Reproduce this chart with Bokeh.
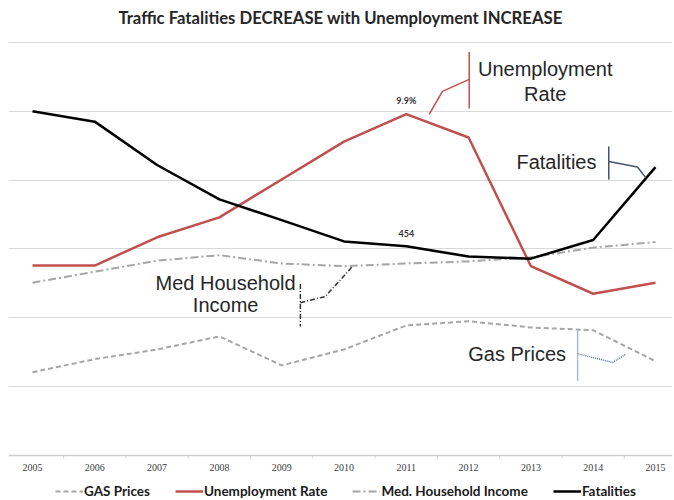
from bokeh.plotting import figure
from bokeh.models import Range1d, FixedTicker, Label, Legend, LegendItem, Span
from bokeh.core.properties import value
from bokeh.embed import file_html
from bokeh.resources import INLINE

# ---- data (values relative to the hidden y scale) ----
years = [2005, 2006, 2007, 2008, 2009, 2010, 2011, 2012, 2013, 2014, 2015]
year_labels = [str(y) for y in years]
gas_prices = [12.1, 14.0, 15.4, 17.3, 13.1, 15.4, 18.9, 19.5, 18.6, 18.2, 13.7]
unemployment_rate = [27.6, 27.6, 31.7, 34.6, 40.1, 45.6, 49.6, 46.2, 27.5, 23.5, 25.1]
med_household_income = [25.1, 26.7, 28.3, 29.1, 27.9, 27.5, 27.9, 28.2, 28.8, 30.2, 31.0]
fatalities = [50.0, 48.5, 42.2, 37.2, 34.2, 31.1, 30.4, 28.9, 28.6, 31.3, 41.9]
grid_values = [10, 20, 30, 40, 50, 60]

label_year = 2011
unemp_label = "9.9%"
fatal_label = "454"

title_text = "Traffic Fatalities DECREASE with Unemployment INCREASE"

RED = "#c0504d"
GRAY = "#a6a6a6"
AXIS = "#d0d0d0"

p = figure(frame_width=664, frame_height=467, output_backend="svg", toolbar_location=None,
           x_range=Range1d(2004.615, 2015.273), y_range=Range1d(-6.39, 61.45),
           min_border_left=8, min_border_right=2, min_border_top=0, min_border_bottom=0)
p.outline_line_color = None
p.background_fill_color = "white"
p.border_fill_color = "white"

p.title.text = title_text
p.title.align = "center"
p.title.text_font = "Lato"
p.title.text_font_size = "16.7px"
p.title.text_font_style = "bold"
p.title.text_color = "#262626"

# axes / grid (category axis drawn by hand at y = 0)
p.xaxis.visible = False
p.yaxis.visible = False
p.xgrid.visible = False
p.ygrid.ticker = FixedTicker(ticks=grid_values)
p.ygrid.grid_line_color = "#d9d9d9"
p.ygrid.grid_line_width = 1

p.add_layout(Span(location=0, dimension="width", line_color=AXIS, line_width=1.5))
mids = [y + 0.5 for y in years[:-1]]
p.segment(x0=mids, y0=[0] * len(mids), x1=mids, y1=[-0.45] * len(mids),
          line_color=AXIS, line_width=1)
p.text(x=years, y=[-1.74] * len(years), text=year_labels, text_align="center",
       text_baseline="middle", text_font=value("Liberation Serif"),
       text_font_size="10px", text_color="#404040")

# series
r_gas = p.line(years, gas_prices, line_color=GRAY, line_width=2, line_dash="5 3")
r_inc = p.line(years, med_household_income, line_color=GRAY, line_width=2, line_dash="8 3 2 3")
r_une = p.line(years, unemployment_rate, line_color=RED, line_width=2.5)
r_fat = p.line(years, fatalities, line_color="black", line_width=2.5)

# data labels
i = years.index(label_year)
p.add_layout(Label(x=label_year, y=unemployment_rate[i], y_offset=14, text=unemp_label,
                   text_align="center", text_baseline="middle", text_font="Lato",
                   text_font_size="9px", text_font_style="bold", text_color="#333333"))
p.add_layout(Label(x=label_year, y=fatalities[i], y_offset=13, text=fatal_label,
                   text_align="center", text_baseline="middle", text_font="Lato",
                   text_font_size="9px", text_font_style="bold", text_color="#333333"))

# callouts
def callout(lines, tx, tys, vx, vy0, vy1, lx, ly, color, dash, width=1.5):
    for t, ty in zip(lines, tys):
        p.add_layout(Label(x=tx, y=ty, text=t, text_align="center", text_baseline="middle",
                           text_font="Liberation Sans", text_font_size="20px",
                           text_color="#262626"))
    p.line([vx, vx], [vy0, vy1], line_color=color, line_width=width, line_dash=dash)
    p.line(lx, ly, line_color=color, line_width=width, line_dash=dash)

callout(["Unemployment", "Rate"], 2013.23, [56.1, 52.5],
        2012.01, 58.6, 50.4, [2012.01, 2011.58, 2011.37], [54.65, 52.9, 49.6], RED, "solid")
callout(["Fatalities"], 2013.41, [42.6],
        2014.25, 44.9, 40.1, [2014.25, 2014.71, 2014.84], [42.7, 41.9, 40.4], "#44546a", "solid")
callout(["Med Household", "Income"], 2008.10, [25.1, 21.9],
        2009.30, 24.9, 18.75, [2009.30, 2009.70, 2010.14], [22.2, 23.1, 27.5], "#333333", "5 2 1 2")
callout(["Gas Prices"], 2012.78, [14.7],
        2013.75, 18.0, 10.8, [2013.75, 2014.31, 2014.52], [14.8, 13.5, 14.7], "#5f7394", "1 1")

legend = Legend(items=[
    LegendItem(label="GAS Prices", renderers=[r_gas]),
    LegendItem(label="Unemployment Rate", renderers=[r_une]),
    LegendItem(label="Med. Household Income", renderers=[r_inc]),
    LegendItem(label="Fatalities", renderers=[r_fat]),
], orientation="horizontal", location=(47, 0))
legend.label_text_font = "Lato"
legend.label_text_font_size = "13.5px"
legend.label_text_font_style = "bold"
legend.label_text_color = "#1a1a1a"
legend.glyph_width = 28
legend.glyph_height = 12
legend.label_height = 14
legend.label_standoff = 1
legend.spacing = 25
legend.padding = 0
legend.margin = 0
legend.border_line_color = None
legend.background_fill_alpha = 0
p.add_layout(legend, "center")

open("out.html", "w").write(file_html(p, INLINE))
